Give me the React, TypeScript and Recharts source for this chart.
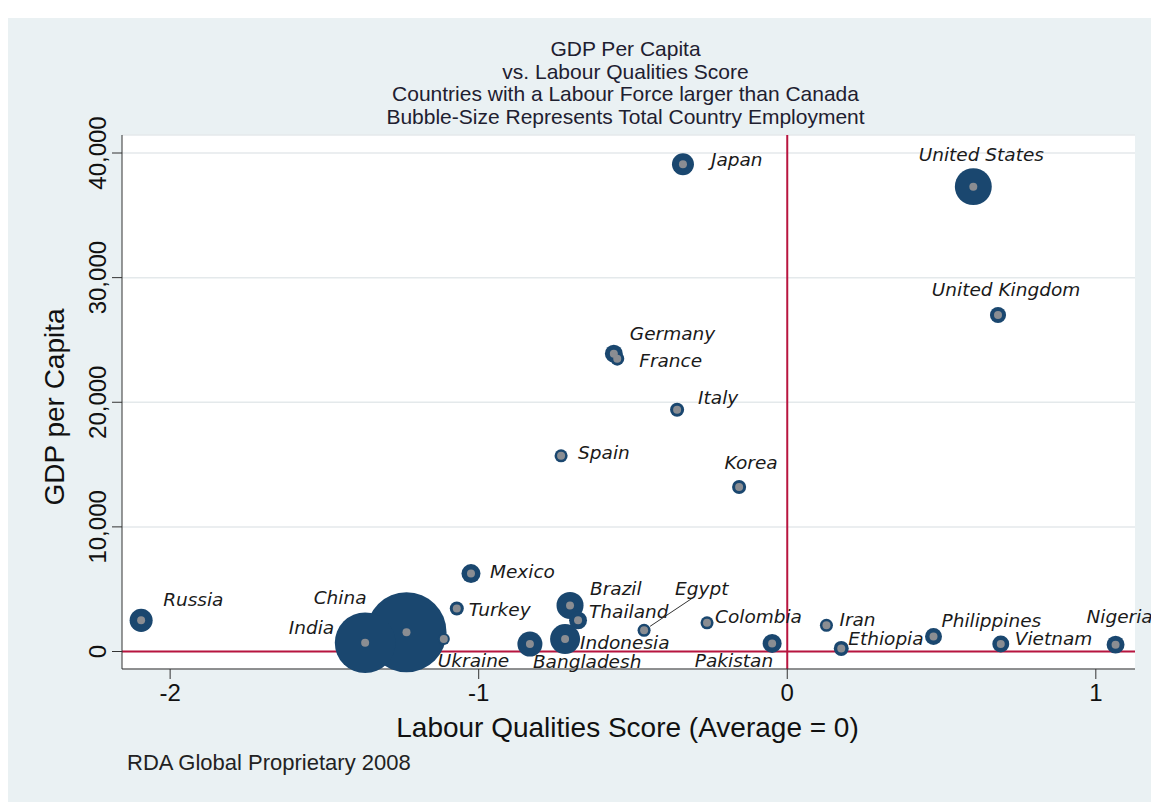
import React from "react"
import {
  ScatterChart,
  Scatter,
  XAxis,
  YAxis,
  ZAxis,
  CartesianGrid,
  ReferenceLine,
} from "recharts"

// country data
const countries = [
  "Japan", "United States", "United Kingdom", "Germany", "France", "Italy", "Spain", "Korea",
  "Mexico", "Russia", "Turkey", "China", "India", "Ukraine", "Brazil", "Thailand",
  "Indonesia", "Bangladesh", "Egypt", "Colombia", "Pakistan", "Iran", "Ethiopia",
  "Philippines", "Vietnam", "Nigeria",
]
const labourScore = [
  -0.338, 0.603, 0.683, -0.562, -0.551, -0.357, -0.733, -0.156,
  -1.025, -2.094, -1.071, -1.234, -1.368, -1.113, -0.704, -0.678,
  -0.72, -0.834, -0.464, -0.26, -0.049, 0.127, 0.175,
  0.474, 0.692, 1.064,
]
const gdpPerCapita = [
  39100, 37300, 27000, 23900, 23500, 19400, 15700, 13200,
  6250, 2500, 3450, 1550, 700, 1000, 3700, 2500,
  1000, 600, 1700, 2300, 650, 2100, 250,
  1200, 600, 550,
]
// total employment (millions), drives bubble area
const employment = [
  71, 200, 38, 47, 29, 29, 25, 29,
  53, 78, 29, 940, 540, 21, 107, 47,
  132, 92, 25, 25, 53, 25, 33,
  42, 42, 47,
]
const yTicks = [0, 10000, 20000, 30000, 40000]
const xTicks = [-2, -1, 0, 1]

const data = countries.map((name, i) => ({
  name,
  lq: labourScore[i],
  gdp: gdpPerCapita[i],
  emp: employment[i],
}))

// label placement (like stata mlabvpos), offsets from marker centre
const labelPos: Record<string, [number, number, string]> = {
  Japan: [28, -5, "start"],
  "United States": [8, -32, "middle"],
  "United Kingdom": [8, -26, "middle"],
  Germany: [16, -20, "start"],
  France: [22, 2, "start"],
  Italy: [21, -12, "start"],
  Spain: [17, -3, "start"],
  Korea: [12, -24, "middle"],
  Mexico: [19, -2, "start"],
  Russia: [22, -21, "start"],
  Turkey: [12, 1, "start"],
  China: [-40, -35, "end"],
  India: [-31, -15, "end"],
  Ukraine: [-6, 21, "start"],
  Brazil: [20, -17, "start"],
  Thailand: [11, -9, "start"],
  Indonesia: [15, 3, "start"],
  Bangladesh: [3, 17, "start"],
  Egypt: [31, -42, "start"],
  Colombia: [8, -6, "start"],
  Pakistan: [1, 17, "end"],
  Iran: [13, -6, "start"],
  Ethiopia: [7, -10, "start"],
  Philippines: [8, -16, "start"],
  Vietnam: [14, -6, "start"],
  Nigeria: [4, -28, "middle"],
}

const NAVY = "#1a476f"
const RED = "#b8153f"
const BG = "#eaf1f3"
const FONT = "'Liberation Sans', Arial, sans-serif"

const Bubble = (props: any) => {
  const { cx, cy, width } = props
  if (cx == null || cy == null) return null
  return <circle cx={cx} cy={cy} r={width / 2} fill={NAVY} />
}

const Dot = (props: any) => {
  const { cx, cy, payload } = props
  if (cx == null || cy == null) return null
  const pos = labelPos[payload.name] || [10, 0, "start"]
  return (
    <g>
      <circle cx={cx} cy={cy} r={4} fill="#8a8d92" />
      {payload.name === "Egypt" && (
        <line x1={cx + 6} y1={cy - 4} x2={cx + 48} y2={cy - 32} stroke="#333" strokeWidth={1} />
      )}
      <text
        x={cx + pos[0]}
        y={cy + pos[1]}
        textAnchor={pos[2] as any}
        dominantBaseline="central"
        fontFamily="'DejaVu Sans', Verdana, sans-serif"
        fontStyle="italic"
        fontSize={18.5}
        fill="#1a1a1a"
      >
        {payload.name}
      </text>
    </g>
  )
}

const YTick = (props: any) => {
  const { x, y, payload } = props
  return (
    <text
      transform={`translate(${x - 4}, ${y}) rotate(-90)`}
      textAnchor="middle"
      fontFamily={FONT}
      fontSize={24}
      fill="#111"
    >
      {payload.value.toLocaleString("en-US")}
    </text>
  )
}

export default function App() {
  return (
    <div style={{ position: "relative", width: 1151, height: 794, background: "#fff" }}>
      <div style={{ position: "absolute", left: 0, top: 10, width: 1151, height: 784, background: BG }}>
        <ScatterChart
          width={1151}
          height={784}
          margin={{ top: 117, right: 24, bottom: 0, left: 0 }}
          style={{ overflow: "visible" }}
        >
          <CartesianGrid horizontal vertical={false} stroke="#e4e9eb" strokeWidth={1.5} fill="#fff" />
          <XAxis
            type="number"
            dataKey="lq"
            domain={[-2.156, 1.127]}
            ticks={xTicks}
            height={133}
            tickSize={10}
            tickMargin={5}
            stroke="#333"
            tick={{ fontSize: 24, fontFamily: FONT, fill: "#111" }}
          />
          <YAxis
            type="number"
            dataKey="gdp"
            domain={[-1404, 41445]}
            ticks={yTicks}
            width={114}
            tickSize={10}
            stroke="#333"
            tick={<YTick />}
          />
          <ZAxis type="number" dataKey="emp" domain={[0, 1000]} range={[0, 5357]} />
          <ReferenceLine x={0} stroke={RED} strokeWidth={2} />
          <ReferenceLine y={0} stroke={RED} strokeWidth={2} />
          <Scatter data={data} shape={<Bubble />} isAnimationActive={false} />
          <Scatter data={data} shape={<Dot />} isAnimationActive={false} />
        </ScatterChart>

        <div
          style={{
            position: "absolute",
            left: 112,
            width: 1011,
            top: 20,
            textAlign: "center",
            fontFamily: FONT,
            fontSize: 21,
            lineHeight: "22.5px",
            color: "#1e2030",
          }}
        >
          <div>GDP Per Capita</div>
          <div>vs. Labour Qualities Score</div>
          <div>Countries with a Labour Force larger than Canada</div>
          <div>Bubble-Size Represents Total Country Employment</div>
        </div>

        <div
          style={{
            position: "absolute",
            left: 114,
            width: 1011,
            top: 693,
            textAlign: "center",
            fontFamily: FONT,
            fontSize: 28,
            lineHeight: "34px",
            color: "#111",
          }}
        >
          Labour Qualities Score (Average = 0)
        </div>

        <div
          style={{
            position: "absolute",
            left: 47,
            top: 389,
            transform: "translate(-50%, -50%) rotate(-90deg)",
            whiteSpace: "nowrap",
            fontFamily: FONT,
            fontSize: 28,
            lineHeight: "34px",
            color: "#111",
          }}
        >
          GDP per Capita
        </div>

        <div
          style={{
            position: "absolute",
            left: 119,
            top: 732,
            fontFamily: FONT,
            fontSize: 22,
            lineHeight: "26px",
            color: "#222",
          }}
        >
          RDA Global Proprietary 2008
        </div>
      </div>
    </div>
  )
}
